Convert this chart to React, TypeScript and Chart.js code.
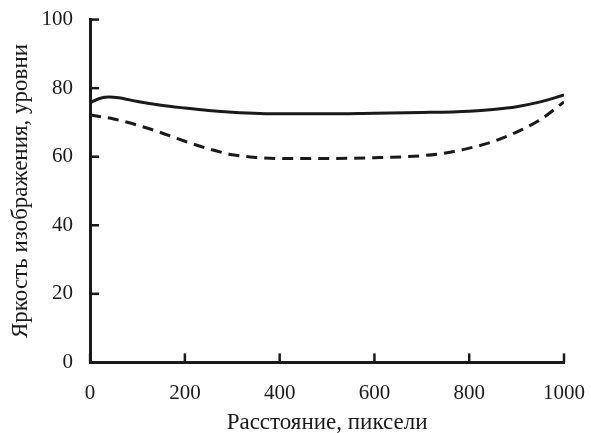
import React, { useEffect, useRef } from "react";
import { Chart, registerables } from "chart.js";

Chart.register(...registerables);

const solidX = [0, 20, 40, 60, 100, 150, 200, 250, 300, 400, 500, 600, 700, 800, 850, 900, 950, 1000];
const solidY = [75.8, 77.0, 77.4, 77.2, 76.1, 75.0, 74.2, 73.5, 73.0, 72.5, 72.5, 72.7, 72.9, 73.3, 73.8, 74.6, 76.0, 78.0];
const dashedX = [0, 50, 100, 150, 200, 250, 300, 350, 400, 500, 600, 700, 750, 800, 850, 900, 950, 1000];
const dashedY = [72.2, 71.0, 69.2, 67.0, 64.5, 62.3, 60.6, 59.8, 59.5, 59.5, 59.7, 60.3, 61.1, 62.5, 64.4, 67.2, 70.8, 76.0];
const xTitle = "Расстояние, пиксели";
const yTitle = "Яркость изображения, уровни";

const FONT = "'Liberation Serif', 'DejaVu Serif', serif";
const INK = "#1a1a1a";

const inwardTicks = {
  id: "inwardTicks",
  afterDraw(chart: any) {
    const { ctx, chartArea, scales } = chart;
    ctx.save();
    ctx.strokeStyle = INK;
    ctx.lineWidth = 2.5;
    const len = 9;
    const xs = scales.x;
    xs.ticks.forEach((_t: any, i: number) => {
      const px = xs.getPixelForTick(i);
      ctx.beginPath();
      ctx.moveTo(px, chartArea.bottom);
      ctx.lineTo(px, chartArea.bottom - len);
      ctx.stroke();
    });
    const ys = scales.y;
    ys.ticks.forEach((_t: any, i: number) => {
      const py = ys.getPixelForTick(i);
      ctx.beginPath();
      ctx.moveTo(chartArea.left, py);
      ctx.lineTo(chartArea.left + len, py);
      ctx.stroke();
    });
    ctx.restore();
  },
};

export default function App() {
  const ref = useRef<HTMLCanvasElement>(null);
  useEffect(() => {
    const chart = new Chart(ref.current!, {
      type: "line",
      data: {
        datasets: [
          {
            data: solidX.map((x, i) => ({ x, y: solidY[i] })),
            borderColor: INK,
            borderWidth: 3,
            pointRadius: 0,
            cubicInterpolationMode: "monotone",
          },
          {
            data: dashedX.map((x, i) => ({ x, y: dashedY[i] })),
            borderColor: INK,
            borderWidth: 3,
            borderDash: [11, 7],
            pointRadius: 0,
            cubicInterpolationMode: "monotone",
          },
        ],
      },
      plugins: [inwardTicks],
      options: {
        animation: false,
        responsive: false,
        layout: { padding: { top: 0, right: 0, bottom: 1, left: 7 } },
        plugins: { legend: { display: false }, tooltip: { enabled: false } },
        scales: {
          x: {
            type: "linear",
            min: 0,
            max: 1000,
            grid: { display: false, drawTicks: true, tickLength: 12 },
            border: { display: true, color: INK, width: 3 },
            ticks: {
              stepSize: 200,
              color: INK,
              padding: 6,
              font: { family: FONT, size: 21 },
              callback: (v: any) => String(v),
            },
            title: { display: true, text: xTitle, color: INK, padding: { top: 2, bottom: 0 }, font: { family: FONT, size: 23, lineHeight: 0.8 } },
          },
          y: {
            type: "linear",
            min: 0,
            max: 100,
            grid: { display: false, drawTicks: true, tickLength: 10 },
            border: { display: true, color: INK, width: 3 },
            ticks: {
              stepSize: 20,
              color: INK,
              padding: 7,
              font: { family: FONT, size: 21 },
              callback: (v: any) => String(v),
            },
            title: { display: true, text: yTitle, color: INK, padding: { top: 0, bottom: 0 }, font: { family: FONT, size: 23 } },
          },
        },
      },
    });
    return () => chart.destroy();
  }, []);
  return (
    <div style={{ position: "fixed", left: 0, top: 0, width: 591, height: 433, background: "#fff" }}>
      <canvas ref={ref} width={591} height={433} />
    </div>
  );
}
